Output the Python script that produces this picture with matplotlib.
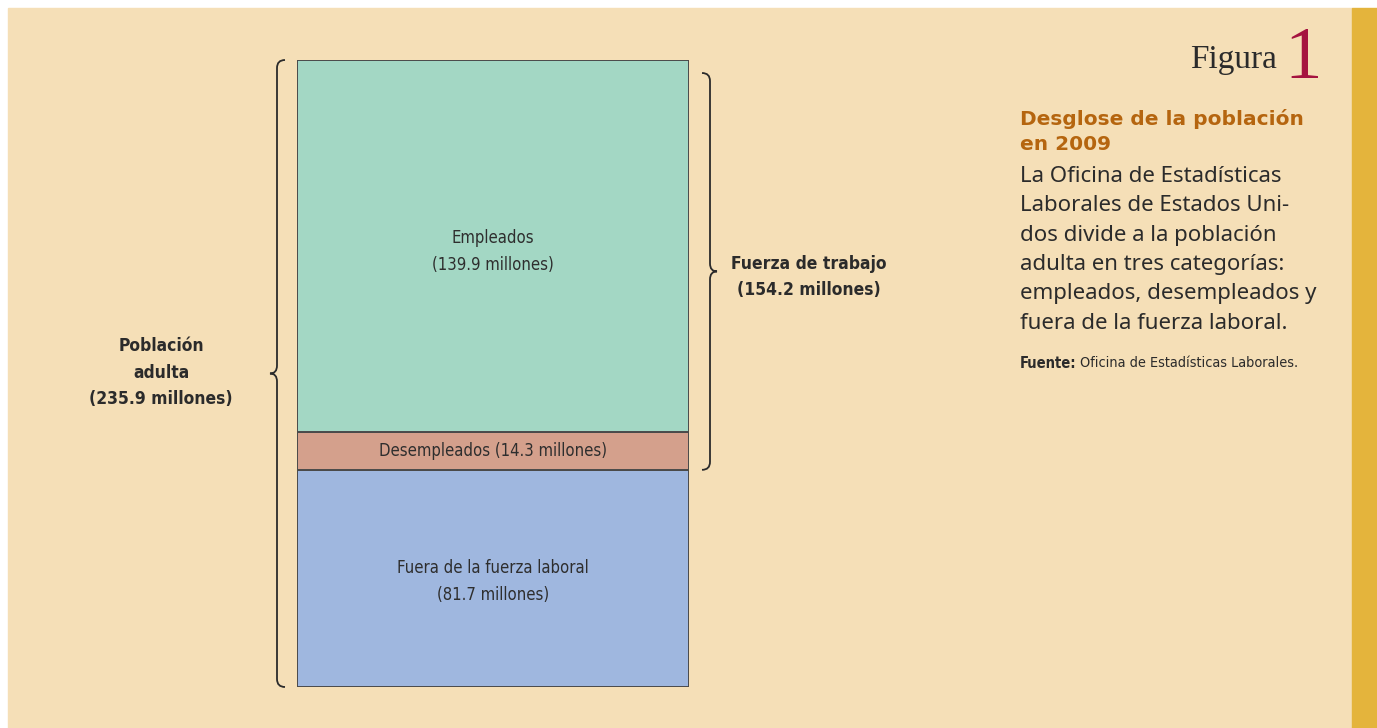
import matplotlib.pyplot as plt
from matplotlib.patches import Rectangle, PathPatch
from matplotlib.path import Path

# data (millions)
categories = ["Fuera de la fuerza laboral", "Desempleados", "Empleados"]
values = [81.7, 14.3, 139.9]
colors = ["#9fb7df", "#d4a08c", "#a3d7c4"]
total = 235.9
labor_force = 154.2

W, H = 1377, 728
fig = plt.figure(figsize=(W / 100, H / 100), dpi=100)
fig.patch.set_facecolor("white")

# background panel in pixel coords
bg = fig.add_axes([0, 0, 1, 1])
bg.set_xlim(0, W)
bg.set_ylim(H, 0)
bg.axis("off")
bg.add_patch(Rectangle((8, 8), 1344, H - 8, color="#f5dfb7", zorder=0))
bg.add_patch(Rectangle((1352, 8), 25, H - 8, color="#e4b43c", zorder=0))

# stacked column
ax = fig.add_axes([297 / W, (H - 687) / H, 392 / W, 627 / H])
ax.set_xlim(0, 1)
ax.set_ylim(0, total)
ax.axis("off")
bottom = 0
for cat, v, c in zip(categories, values, colors):
    ax.bar(0.5, v, width=1, bottom=bottom, color=c, edgecolor="#4a4a4a", linewidth=1.4)
    bottom += v

px_x = 1 / 392
px_y = total / 627

cond = dict(family="DejaVu Sans", fontstretch="condensed", color="#2e2e2e")
ax.text(0.5, values[0] + values[1] + values[2] * 0.485, "Empleados\n(139.9 millones)",
        ha="center", va="center", fontsize=12, linespacing=1.65, **cond)
ax.text(0.5, values[0] + values[1] / 2, "Desempleados (14.3 millones)",
        ha="center", va="center", fontsize=12, **cond)
ax.text(0.5, values[0] * 0.486, "Fuera de la fuerza laboral\n(81.7 millones)",
        ha="center", va="center", fontsize=12, linespacing=1.65, **cond)


def brace(x, y0, y1, side):
    # side=-1 tip points left, +1 tip points right
    r = 8 * px_x
    ry = 8 * px_y
    tip = 7 * px_x
    ym = (y0 + y1) / 2
    s = -side
    verts = [(x + s * r, y1), (x, y1), (x, y1 - ry),
             (x, ym + ry), (x, ym), (x - s * tip, ym),
             (x, ym), (x, ym - ry),
             (x, y0 + ry), (x, y0), (x + s * r, y0)]
    codes = [Path.MOVETO, Path.CURVE3, Path.CURVE3,
             Path.LINETO, Path.CURVE3, Path.CURVE3,
             Path.CURVE3, Path.CURVE3,
             Path.LINETO, Path.CURVE3, Path.CURVE3]
    ax.add_patch(PathPatch(Path(verts, codes), fill=False, edgecolor="#2b2b2b",
                           linewidth=1.3, clip_on=False))


brace(-20 * px_x, 0, total, -1)
brace(1 + 21 * px_x, values[0], values[0] + labor_force - 13 * px_y, 1)

bold = dict(family="DejaVu Sans", fontstretch="condensed", fontweight="bold", color="#2b2b2b")
ax.text(-136 * px_x, total * 0.5 + 1 * px_y, "Población\nadulta\n(235.9 millones)",
        ha="center", va="center", fontsize=12.5, linespacing=1.6, **bold)
ax.text(1 + 120 * px_x, values[0] + labor_force / 2 - 12 * px_y,
        "Fuerza de trabajo\n(154.2 millones)",
        ha="center", va="center", fontsize=12.5, linespacing=1.6, **bold)

# side panel text
bg.text(1277, 60, "Figura", ha="right", va="center", fontsize=24,
        family="Liberation Serif", color="#2b2b2b")
bg.text(1322, 60, "1", ha="right", va="center", fontsize=54,
        family="Liberation Serif", color="#a51440")
bg.text(1020, 131.5, "Desglose de la población\nen 2009", ha="left", va="center",
        fontsize=14.5, fontweight="bold", family="DejaVu Sans", color="#b5650f",
        linespacing=1.45)
bg.text(1020, 249.8, "La Oficina de Estadísticas\nLaborales de Estados Uni-\n"
        "dos divide a la población\nadulta en tres categorías:\n"
        "empleados, desempleados y\nfuera de la fuerza laboral.",
        ha="left", va="center", fontsize=16, family="Noto Sans", color="#2b2b2b",
        linespacing=1.52)
bg.text(1020, 363, "Fuente:", ha="left", va="center", fontsize=10.5,
        fontweight="bold", family="DejaVu Sans", fontstretch="condensed", color="#2b2b2b")
bg.text(1080, 363, "Oficina de Estadísticas Laborales.", ha="left", va="center",
        fontsize=10.4, family="DejaVu Sans", fontstretch="condensed", color="#2b2b2b")

fig.savefig("out.png", dpi=100, facecolor=fig.get_facecolor())
